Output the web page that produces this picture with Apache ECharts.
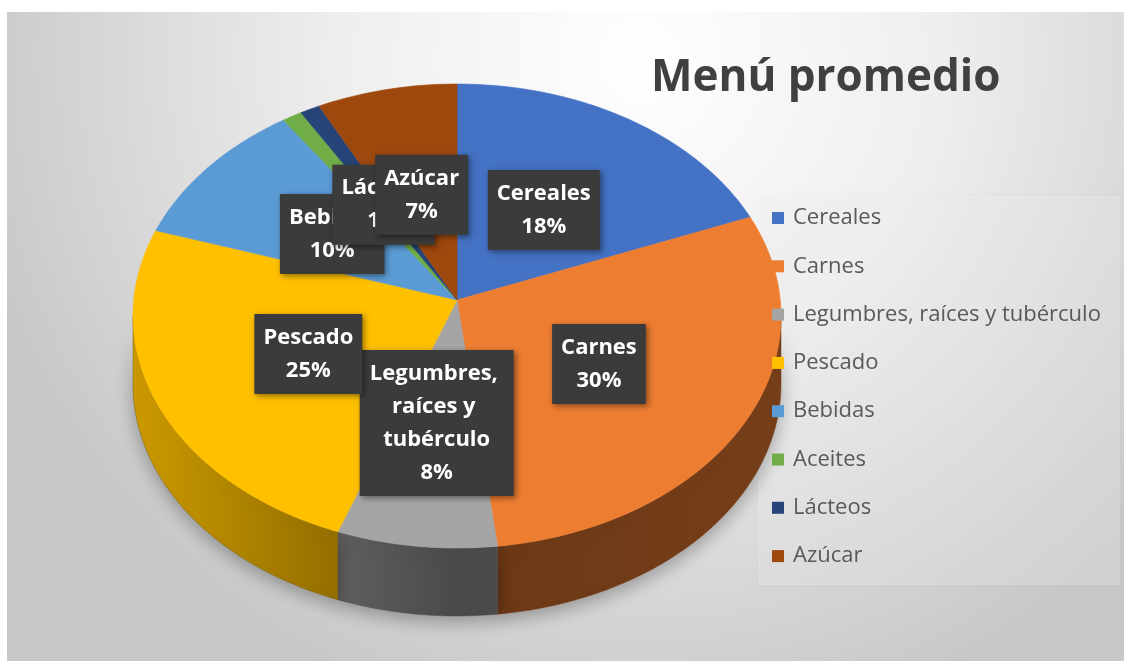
<!DOCTYPE html>
<html>
<head>
<meta charset="utf-8">
<title>Menú promedio</title>
<script src="https://cdn.jsdelivr.net/npm/echarts@6/dist/echarts.min.js"></script>
<style>
  html, body { margin: 0; padding: 0; background: #ffffff; }
  #main { width: 1124px; height: 661px; }
</style>
</head>
<body>
<div id="main"></div>
<script>
// datos del gráfico
const categorias = ["Cereales", "Carnes", "Legumbres, raíces y tubérculo", "Pescado", "Bebidas", "Aceites", "Lácteos", "Azúcar"];
const valores = [18, 30, 8, 25, 10, 1, 1, 7];
const mostrarEtiqueta = [true, true, true, true, true, false, true, true];
const colores = ["#4472C4", "#ED7D31", "#A5A5A5", "#FFC000", "#5B9BD5", "#70AD47", "#264478", "#9E480E"];

(function(){
    const myChart = echarts.init(document.getElementById("main"));

    // porcentajes acumulados -> ángulos de cada sector
    const total = valores.reduce(function(a, b){ return a + b; }, 0);
    let acum = 0;
    const datos = valores.map(function(v, i){
        const ini = acum / total;
        acum += v;
        return { name: categorias[i], value: [v, ini, acum / total] };
    });

    // geometría del pastel inclinado (el vértice sube un poco por la perspectiva)
    const cx = 457, cy = 316, rx = 324, ry = 232, alto = 68, vy = 300;

    function oscurecer(hex, f){
        const n = parseInt(hex.slice(1), 16);
        const r = Math.round(((n >> 16) & 255) * f);
        const g = Math.round(((n >> 8) & 255) * f);
        const b = Math.round((n & 255) * f);
        return "rgb(" + r + "," + g + "," + b + ")";
    }

    function arco(a0, a1, dy){
        const pts = [];
        const n = Math.max(2, Math.ceil((a1 - a0) / (Math.PI / 180)));
        for (let i = 0; i <= n; i++) {
            const a = a0 + (a1 - a0) * i / n;
            pts.push([cx + rx * Math.sin(a), cy - ry * Math.cos(a) + dy]);
        }
        return pts;
    }

    function renderItem(params, api){
        const idx = params.dataIndex;
        const v = api.value(0);
        const a0 = api.value(1) * Math.PI * 2;
        const a1 = api.value(2) * Math.PI * 2;
        const color = colores[idx];
        const hijos = [];

        // lateral visible (mitad frontal)
        const s = Math.max(a0, Math.PI / 2);
        const e = Math.min(a1, Math.PI * 1.5);
        if (e > s) {
            const lado = arco(s, e, 0).concat(arco(s, e, alto).reverse());
            hijos.push({
                type: "polygon",
                z2: 1,
                shape: { points: lado },
                style: {
                    fill: new echarts.graphic.LinearGradient(cx - rx, 0, cx + rx, 0, [
                        { offset: 0, color: oscurecer(color, 0.8) },
                        { offset: 0.5, color: oscurecer(color, 0.45) },
                        { offset: 1, color: oscurecer(color, 0.5) }
                    ], true),
                    stroke: oscurecer(color, 0.5),
                    lineWidth: 0.5,
                    shadowBlur: 18,
                    shadowColor: "rgba(0,0,0,0.3)",
                    shadowOffsetY: 6
                }
            });
        }

        // cara superior
        hijos.push({
            type: "polygon",
            z2: 10,
            shape: { points: [[cx, vy]].concat(arco(a0, a1, 0)) },
            style: { fill: color, stroke: color, lineWidth: 0.6 }
        });

        // etiqueta de datos, a media distancia entre vértice y borde
        if (mostrarEtiqueta[idx]) {
            const mid = (a0 + a1) / 2;
            const nombre = categorias[idx];
            const largo = nombre.length > 12;
            hijos.push({
                type: "text",
                z2: 100 + idx,
                x: cx + rx * 0.5 * Math.sin(mid),
                y: (vy + cy) / 2 - ry * 0.5 * Math.cos(mid),
                style: {
                    text: nombre + "\n" + Math.round(v / total * 100) + "%",
                    fill: "#ffffff",
                    fontFamily: "Open Sans",
                    fontWeight: "bold",
                    fontSize: 22,
                    lineHeight: 33,
                    align: "center",
                    verticalAlign: "middle",
                    width: largo ? 136 : undefined,
                    overflow: largo ? "break" : "none",
                    backgroundColor: "#3b3b3b",
                    padding: [7, 9],
                    shadowBlur: 6,
                    shadowColor: "rgba(0,0,0,0.45)",
                    shadowOffsetX: 2,
                    shadowOffsetY: 2
                }
            });
        }
        return { type: "group", children: hijos };
    }

    const option = {
        color: colores,
        animation: false,
        graphic: [
            {
                // fondo del área del gráfico
                type: "rect",
                z: -10,
                silent: true,
                shape: { x: 7, y: 12, width: 1117, height: 649 },
                style: {
                    fill: new echarts.graphic.RadialGradient(640, 60, 680, [
                        { offset: 0, color: "#ffffff" },
                        { offset: 0.45, color: "#eeeeee" },
                        { offset: 1, color: "#c8c8c8" }
                    ], true)
                }
            },
            {
                // recuadro de la leyenda (debajo del pastel)
                type: "rect",
                z: -5,
                silent: true,
                shape: { x: 758, y: 196, width: 362, height: 389 },
                style: {
                    fill: "rgba(255,255,255,0.25)",
                    shadowBlur: 4,
                    shadowColor: "rgba(0,0,0,0.12)"
                }
            }
        ],
        title: {
            text: "Menú promedio",
            left: 646,
            top: 51,
            textStyle: {
                fontFamily: "Open Sans",
                fontWeight: "bold",
                fontSize: 44,
                color: "#404040"
            }
        },
        legend: {
            orient: "vertical",
            left: 758,
            top: 197,
            z: 5,
            data: categorias,
            icon: "rect",
            itemWidth: 12,
            itemHeight: 12,
            itemGap: 26.3,
            padding: [10, 15, 17, 14],
            selectedMode: false,
            textStyle: {
                fontFamily: "Open Sans",
                fontSize: 22,
                lineHeight: 22,
                color: "#595959",
                padding: [0, 0, 0, 4]
            }
        },
        series: [
            {
                // pastel 3D dibujado con series personalizadas
                name: "Menú promedio",
                type: "custom",
                coordinateSystem: "none",
                z: 3,
                renderItem: renderItem,
                data: datos
            },
            {
                // serie auxiliar para la leyenda
                type: "pie",
                radius: 0,
                silent: true,
                label: { show: false },
                labelLine: { show: false },
                data: valores.map(function(v, i){ return { name: categorias[i], value: v }; })
            }
        ]
    };

    myChart.setOption(option);

    window.addEventListener("resize", function() {
        myChart.resize();
    });
})();
</script>
</body>
</html>
